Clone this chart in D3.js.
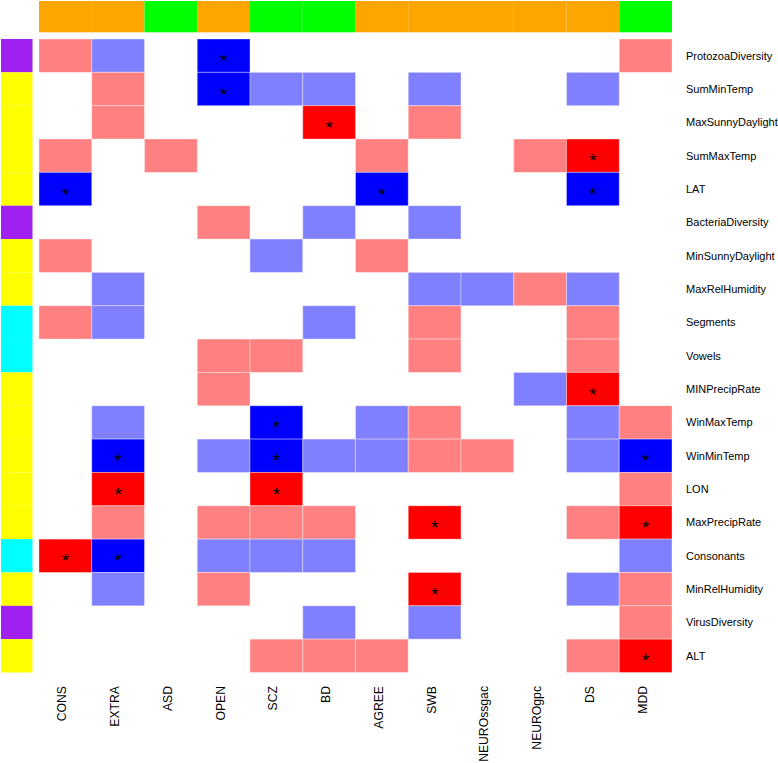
<!DOCTYPE html>
<html>
<head>
<meta charset="utf-8">
<script src="https://cdn.jsdelivr.net/npm/d3@7"></script>
<style>
  html, body { margin: 0; padding: 0; background: #fff; }
  svg { display: block; }
  text { font-family: "Liberation Sans", Arial, sans-serif; }
</style>
</head>
<body>
<svg id="chart" width="778" height="763"></svg>
<script>
const columns = ["CONS","EXTRA","ASD","OPEN","SCZ","BD","AGREE","SWB","NEUROssgac","NEUROgpc","DS","MDD"];
const columnGroups = ["orange","orange","green","orange","green","green","orange","orange","orange","orange","orange","green"];
const rows = ["ProtozoaDiversity","SumMinTemp","MaxSunnyDaylight","SumMaxTemp","LAT","BacteriaDiversity","MinSunnyDaylight","MaxRelHumidity","Segments","Vowels","MINPrecipRate","WinMaxTemp","WinMinTemp","LON","MaxPrecipRate","Consonants","MinRelHumidity","VirusDiversity","ALT"];
const rowGroups = ["purple","yellow","yellow","yellow","yellow","purple","yellow","yellow","cyan","cyan","yellow","yellow","yellow","yellow","yellow","cyan","yellow","purple","yellow"];
// -2 significant negative, -1 negative, 0 none, 1 positive, 2 significant positive
const values = [
  [ 1,-1, 0,-2, 0, 0, 0, 0, 0, 0, 0, 1],
  [ 0, 1, 0,-2,-1,-1, 0,-1, 0, 0,-1, 0],
  [ 0, 1, 0, 0, 0, 2, 0, 1, 0, 0, 0, 0],
  [ 1, 0, 1, 0, 0, 0, 1, 0, 0, 1, 2, 0],
  [-2, 0, 0, 0, 0, 0,-2, 0, 0, 0,-2, 0],
  [ 0, 0, 0, 1, 0,-1, 0,-1, 0, 0, 0, 0],
  [ 1, 0, 0, 0,-1, 0, 1, 0, 0, 0, 0, 0],
  [ 0,-1, 0, 0, 0, 0, 0,-1,-1, 1,-1, 0],
  [ 1,-1, 0, 0, 0,-1, 0, 1, 0, 0, 1, 0],
  [ 0, 0, 0, 1, 1, 0, 0, 1, 0, 0, 1, 0],
  [ 0, 0, 0, 1, 0, 0, 0, 0, 0,-1, 2, 0],
  [ 0,-1, 0, 0,-2, 0,-1, 1, 0, 0,-1, 1],
  [ 0,-2, 0,-1,-2,-1,-1, 1, 1, 0,-1,-2],
  [ 0, 2, 0, 0, 2, 0, 0, 0, 0, 0, 0, 1],
  [ 0, 1, 0, 1, 1, 1, 0, 2, 0, 0, 1, 2],
  [ 2,-2, 0,-1,-1,-1, 0, 0, 0, 0, 0,-1],
  [ 0,-1, 0, 1, 0, 0, 0, 2, 0, 0,-1, 1],
  [ 0, 0, 0, 0, 0,-1, 0,-1, 0, 0, 0, 1],
  [ 0, 0, 0, 0, 1, 1, 1, 0, 0, 0, 1, 2]
];

const svg = d3.select("#chart");
const x = d3.scaleBand().domain(columns).range([39, 672]).padding(0);
const y = d3.scaleBand().domain(rows).range([39, 672.5]).padding(0);
const fill = d3.scaleOrdinal().domain([-2,-1,0,1,2]).range(["#0000FF","#8080FF","#FFFFFF","#FF8080","#FF0000"]);
const groupColor = d3.scaleOrdinal().domain(["orange","green","purple","yellow","cyan"])
  .range(["#FFA500","#00FF00","#A020F0","#FFFF00","#00FFFF"]);

// top column side bar
svg.append("g").selectAll("rect").data(columns).join("rect")
  .attr("x", d => x(d)).attr("y", 1)
  .attr("width", x.bandwidth()).attr("height", 31.3)
  .attr("fill", (d, i) => groupColor(columnGroups[i]));

// left row side bar
svg.append("g").selectAll("rect").data(rows).join("rect")
  .attr("x", 1).attr("y", d => y(d))
  .attr("width", 31.5).attr("height", y.bandwidth())
  .attr("fill", (d, i) => groupColor(rowGroups[i]));

const cells = [];
values.forEach((r, i) => r.forEach((v, j) => cells.push({row: rows[i], col: columns[j], v})));

const cg = svg.append("g");
cg.selectAll("rect").data(cells.filter(c => c.v !== 0)).join("rect")
  .attr("x", d => x(d.col)).attr("y", d => y(d.row))
  .attr("width", x.bandwidth()).attr("height", y.bandwidth())
  .attr("fill", d => fill(d.v))
  .attr("stroke", "rgba(255,255,255,0.35)").attr("stroke-width", 1);

cg.selectAll("text").data(cells.filter(c => Math.abs(c.v) === 2)).join("text")
  .attr("x", d => x(d.col) + x.bandwidth() / 2)
  .attr("y", d => y(d.row) + y.bandwidth() / 2 + 11.5)
  .attr("text-anchor", "middle")
  .attr("font-size", 19)
  .attr("fill", "#000")
  .text("*");

// row labels
svg.append("g").selectAll("text").data(rows).join("text")
  .attr("x", 686).attr("y", d => y(d) + y.bandwidth() / 2)
  .attr("dy", "0.35em")
  .attr("font-size", 11)
  .attr("fill", "#000")
  .text(d => d);

// column labels
svg.append("g").selectAll("text").data(columns).join("text")
  .attr("transform", d => `translate(${x(d) + x.bandwidth() / 2 + 1},686) rotate(-90)`)
  .attr("text-anchor", "end")
  .attr("font-size", 12.2)
  .attr("fill", "#000")
  .text(d => d);
</script>
</body>
</html>
